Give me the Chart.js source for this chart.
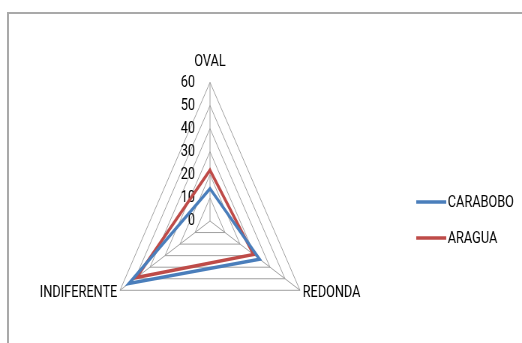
<!DOCTYPE html>
<html>
<head>
<meta charset="utf-8">
<script src="https://cdn.jsdelivr.net/npm/chart.js@4"></script>
<style>
  html, body { margin: 0; padding: 0; background: #fff; overflow: hidden; }
  #clip { position: absolute; left: 0; top: 0; width: 522px; height: 343px; overflow: hidden; }
  #frame { position: absolute; left: 7px; top: 12px; width: 600px; height: 400px;
           border-top: 2px solid #a9a9a9; border-left: 2px solid #a9a9a9; }
  /* the reference is squeezed horizontally, so draw wide and scale down */
  #wrap { position: absolute; left: 0; top: 0; width: 696px; height: 400px;
          transform: scaleX(0.75); transform-origin: 0 0; }
</style>
</head>
<body>
<div id="clip">
  <div id="frame"></div>
  <div id="wrap"><canvas id="c"></canvas></div>
</div>
<script>
// data
const categories = ["OVAL", "REDONDA", "INDIFERENTE"];
const carabobo = [14, 33, 54];
const aragua = [22, 29, 49];
const scaleMin = 0;
const scaleMax = 60;
const scaleStep = 10;

const FONT = "Roboto, 'Liberation Sans', sans-serif";
const FONT_SIZE = 17;

// tick labels sit left of the vertical axis, like Excel
const tickLabels = {
  id: "tickLabels",
  beforeDatasetsDraw(chart) {
    const s = chart.scales.r;
    const ctx = chart.ctx;
    ctx.save();
    ctx.font = FONT_SIZE + "px " + FONT;
    ctx.fillStyle = "#000";
    ctx.textAlign = "right";
    ctx.textBaseline = "middle";
    s.ticks.forEach((t) => {
      const y = s.yCenter - s.getDistanceFromCenterForValue(t.value);
      ctx.fillText(t.label, s.xCenter - 20, y);
    });
    ctx.restore();
  },
};

// line-style legend on the right
const lineLegend = {
  id: "lineLegend",
  afterDraw(chart) {
    const ctx = chart.ctx;
    ctx.save();
    ctx.font = FONT_SIZE + "px " + FONT;
    ctx.textAlign = "left";
    ctx.textBaseline = "middle";
    chart.data.datasets.forEach((ds, i) => {
      const y = 202 + i * 36;
      ctx.strokeStyle = ds.borderColor;
      ctx.lineWidth = 3.5;
      ctx.beginPath();
      ctx.moveTo(555, y);
      ctx.lineTo(595, y);
      ctx.stroke();
      ctx.fillStyle = "#000";
      ctx.fillText(ds.label, 597, y + 1);
    });
    ctx.restore();
  },
};

new Chart(document.getElementById("c"), {
  type: "radar",
  data: {
    labels: categories,
    datasets: [
      {
        label: "CARABOBO",
        data: carabobo,
        borderColor: "#4a7ebb",
        borderWidth: 3.5,
        fill: false,
        pointRadius: 0,
        borderJoinStyle: "miter",
      },
      {
        label: "ARAGUA",
        data: aragua,
        borderColor: "#be4b48",
        borderWidth: 3.5,
        fill: false,
        pointRadius: 0,
        borderJoinStyle: "miter",
      },
    ],
  },
  options: {
    responsive: true,
    maintainAspectRatio: false,
    animation: false,
    layout: { padding: { left: 10, right: 146, top: 37, bottom: 24 } },
    plugins: {
      legend: { display: false },
      tooltip: { enabled: false },
    },
    scales: {
      r: {
        min: scaleMin,
        max: scaleMax,
        ticks: { stepSize: scaleStep, display: false },
        grid: { color: "#a0a0a0", lineWidth: 1 },
        angleLines: { color: "#a0a0a0", lineWidth: 1 },
        pointLabels: {
          color: "#000",
          // top label sits higher; bottom labels are centred on their vertex
          padding: (ctx) => (ctx.index === 0 ? 10 : 4),
          font: (ctx) => ({
            family: FONT,
            size: FONT_SIZE,
            lineHeight: ctx.index === 0 ? 1.2 : 0,
          }),
        },
      },
    },
  },
  plugins: [tickLabels, lineLegend],
});
</script>
</body>
</html>
